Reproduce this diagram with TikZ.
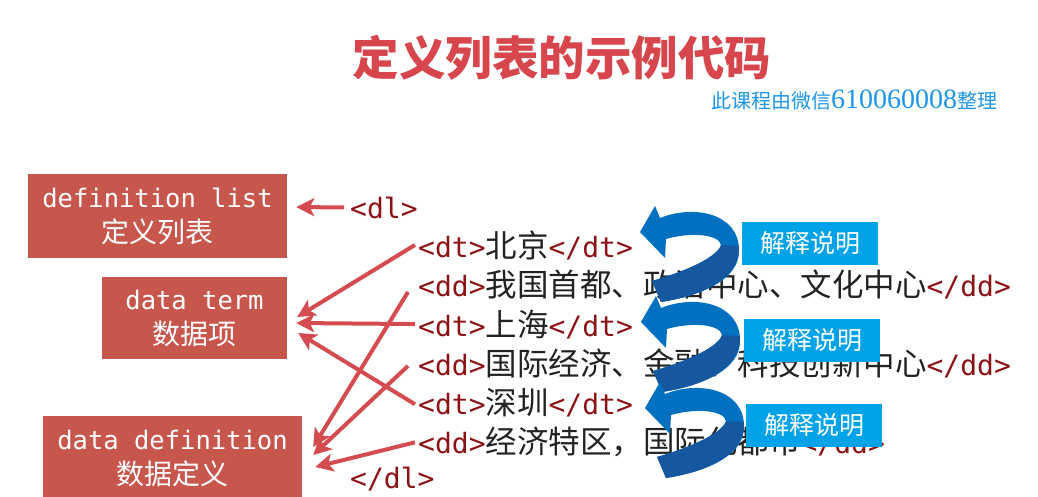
\documentclass[tikz,border=0pt]{standalone}
\usepackage{fontspec}
\usetikzlibrary{arrows.meta}
\newfontfamily\cjk{Noto Sans CJK SC}
\newfontfamily\codemono{DejaVu Sans Mono}
\newfontfamily\digitserif{Liberation Serif}
\definecolor{titlered}{RGB}{214,70,76}
\definecolor{creditblue}{RGB}{30,150,232}
\definecolor{boxred}{RGB}{199,86,77}
\definecolor{tagred}{RGB}{140,18,22}
\definecolor{codeblack}{RGB}{35,35,35}
\definecolor{linkred}{RGB}{212,76,80}
\definecolor{notebox}{RGB}{0,162,232}
\definecolor{ribbonlight}{RGB}{0,112,192}
\definecolor{ribbondark}{RGB}{22,88,160}
% code fragments: tags in mono dark red, content in CJK
\newcommand\tg[1]{{\codemono\fontsize{28}{34}\selectfont\color{tagred}#1}}
\newcommand\zh[1]{{\cjk\fontsize{31.5}{38}\selectfont\color{codeblack}#1}}
\tikzset{
  redbox/.style={fill=boxred, text=white, align=center, inner sep=0pt,
    font=\fontsize{28}{35}\selectfont},
  codeline/.style={anchor=base west, inner sep=0pt},
  notebox/.style={fill=notebox, text=white, minimum width=136pt, minimum height=43pt,
    inner sep=0pt, font=\cjk\fontsize{25}{30}\selectfont},
  link/.style={draw=linkred, line width=4pt,
    -{Stealth[length=18pt,width=18pt,inset=4.5pt]}},
}
% curled ribbon arrow pointing back to the left
\newcommand\curl[1]{%
  \begin{scope}[shift={#1}]
    \fill[ribbonlight] (640,232) -- (655,206) -- (660,218)
      .. controls (695,204) and (739,214) .. (739,250)
      .. controls (740,280) and (700,296) .. (661,302)
      -- (652,281)
      .. controls (690,270) and (718,256) .. (721,245)
      .. controls (719,234) and (690,232) .. (666,239)
      -- (665,258) -- cycle;
    \fill[ribbondark] (739,246)
      .. controls (740,280) and (700,296) .. (661,302)
      -- (652,281)
      .. controls (690,270) and (718,256) .. (721,245) -- cycle;
  \end{scope}}
\begin{document}
\begin{tikzpicture}[x=1pt,y=-1pt]
\useasboundingbox[fill=white] (0,0) rectangle (1038,496);

% heading
\node (title) at (562,58) {\cjk\bfseries\fontsize{46.5}{50}\selectfont\color{titlered}定义列表的示例代码};
\node[anchor=west, inner sep=0pt] (credit) at (711,100)
  {\cjk\fontsize{20}{24}\selectfont\color{creditblue}此课程由微信{\digitserif\fontsize{28}{28}\selectfont 610060008}整理};

% explanation boxes on the left
\node[redbox, minimum width=259pt, minimum height=84pt] (boxList) at (157.5,216)
  {{\codemono\fontsize{25.5}{35}\selectfont definition list}\\{\cjk 定义列表}};
\node[redbox, minimum width=185pt, minimum height=82pt] (boxTerm) at (194.5,318)
  {{\codemono\fontsize{25.5}{35}\selectfont data term}\\{\cjk 数据项}};
\node[redbox, minimum width=259pt, minimum height=84pt] (boxDef) at (172.5,458)
  {{\codemono\fontsize{25.5}{35}\selectfont data definition}\\{\cjk 数据定义}};

% code listing
\node[codeline] (dl)  at (350,218) {\tg{<dl>}};
\node[codeline] (dt1) at (418,257) {\tg{<dt>}\zh{北京}\tg{</dt>}};
\node[codeline] (dd1) at (418,296) {\tg{<dd>}\zh{我国首都、政治中心、文化中心}\tg{</dd>}};
\node[codeline] (dt2) at (418,336) {\tg{<dt>}\zh{上海}\tg{</dt>}};
\node[codeline] (dd2) at (418,375) {\tg{<dd>}\zh{国际经济、金融、科技创新中心}\tg{</dd>}};
\node[codeline] (dt3) at (418,414) {\tg{<dt>}\zh{深圳}\tg{</dt>}};
\node[codeline] (dd3) at (418,453) {\tg{<dd>}\zh{经济特区，国际化都市}\tg{</dd>}};
\node[codeline] (enddl) at (350,488) {\tg{</dl>}};

% links from the tags to their meaning
\draw[link] ([xshift=-6pt]dl.west) -- ([xshift=9pt,yshift=9pt]boxList.east);
\draw[link] ([xshift=-3pt]dt1.west) -- ([xshift=10pt,yshift=1pt]boxTerm.east);
\draw[link] ([xshift=-3pt]dt2.west) -- ([xshift=9pt,yshift=-5pt]boxTerm.east);
\draw[link] ([xshift=-3pt,yshift=-2pt]dt3.west) -- ([xshift=11pt,yshift=-15pt]boxTerm.east);
\draw[link] ([xshift=-10pt,yshift=-8pt]dd1.west) -- ([xshift=11pt,yshift=11pt]boxDef.east);
\draw[link] ([xshift=-10pt,yshift=-3pt]dd2.west) -- ([xshift=11pt,yshift=3pt]boxDef.east);
\draw[link] ([xshift=-3pt,yshift=-1pt]dd3.west) -- ([xshift=13pt,yshift=-9pt]boxDef.east);

% curled arrows and notes on the right
\curl{(0,0)}
\curl{(1,90)}
\curl{(5,176)}
\node[notebox] (note1) at (810,243.5) {解释说明};
\node[notebox] (note2) at (812,340) {解释说明};
\node[notebox] (note3) at (814,425) {解释说明};
\end{tikzpicture}
\end{document}
